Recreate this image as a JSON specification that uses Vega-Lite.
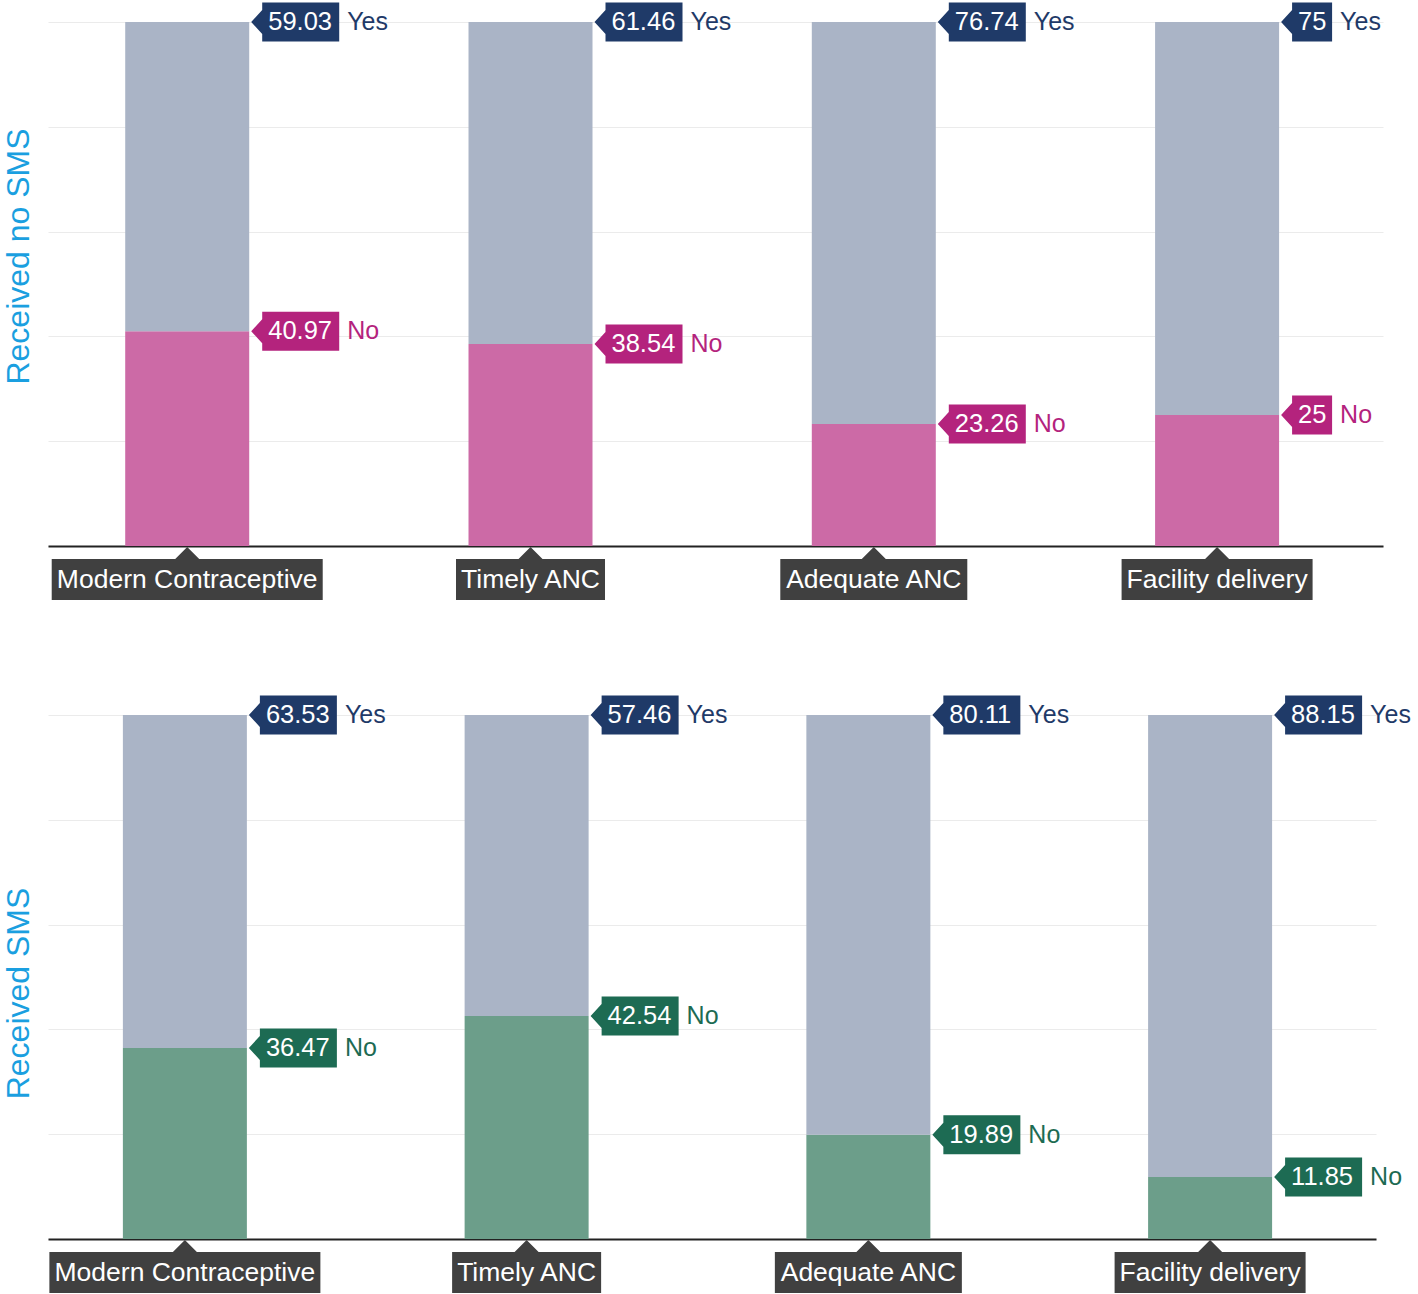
{
  "$schema": "https://vega.github.io/schema/vega-lite/v6.json",
  "padding": {"left": 2, "top": 2, "right": 0, "bottom": 0},
  "spacing": 95,
  "config": {"view": {"stroke": null}, "font": "Liberation Sans"},
  "datasets": {
    "top": [
      {"cat": "Modern Contraceptive", "grp": "No", "value": 40.97},
      {"cat": "Modern Contraceptive", "grp": "Yes", "value": 59.03},
      {"cat": "Timely ANC", "grp": "No", "value": 38.54},
      {"cat": "Timely ANC", "grp": "Yes", "value": 61.46},
      {"cat": "Adequate ANC", "grp": "No", "value": 23.26},
      {"cat": "Adequate ANC", "grp": "Yes", "value": 76.74},
      {"cat": "Facility delivery", "grp": "No", "value": 25},
      {"cat": "Facility delivery", "grp": "Yes", "value": 75}
    ],
    "bottom": [
      {"cat": "Modern Contraceptive", "grp": "No", "value": 36.47},
      {"cat": "Modern Contraceptive", "grp": "Yes", "value": 63.53},
      {"cat": "Timely ANC", "grp": "No", "value": 42.54},
      {"cat": "Timely ANC", "grp": "Yes", "value": 57.46},
      {"cat": "Adequate ANC", "grp": "No", "value": 19.89},
      {"cat": "Adequate ANC", "grp": "Yes", "value": 80.11},
      {"cat": "Facility delivery", "grp": "No", "value": 11.85},
      {"cat": "Facility delivery", "grp": "Yes", "value": 88.15}
    ]
  },
  "resolve": {"scale": {"x": "independent", "y": "independent", "color": "independent", "fill": "independent", "shape": "independent"}},
  "vconcat": [
    {
      "width": 1335,
      "height": 524,
      "data": {"name": "top"},
      "transform": [
        {"stack": "value", "groupby": ["cat"], "sort": [{"field": "grp", "order": "ascending"}], "as": ["v0", "v1"]}
      ],
      "encoding": {
        "x": {
          "field": "cat", "type": "nominal", "sort": null,
          "scale": {"paddingInner": 0.5, "paddingOuter": 0.1944, "align": 0.4},
          "axis": {"labels": false, "ticks": false, "title": null, "domain": true, "domainColor": "#222222", "domainWidth": 2, "grid": false}
        }
      },
      "layer": [
        {
          "mark": {"type": "bar", "width": 124, "opacity": 1},
          "encoding": {
            "y": {
              "field": "v0", "type": "quantitative",
              "scale": {"domain": [0, 100], "nice": false},
              "axis": {
                "title": "Received no SMS", "titleColor": "#1a9fe0", "titleFontSize": 32,
                "titleFont": "Liberation Sans", "titleFontWeight": "normal", "titlePadding": 13, "titleY": 234,
                "labels": false, "ticks": false, "domain": false, "grid": true, "gridColor": "#ebebeb",
                "values": [0, 20, 40, 60, 80, 100]
              }
            },
            "y2": {"field": "v1"},
            "color": {"field": "grp", "type": "nominal", "scale": {"domain": ["No", "Yes"], "range": ["#cc6aa6", "#aab4c6"]}, "legend": null}
          }
        },
        {
          "transform": [{"filter": "datum.grp == 'No'"}],
          "mark": {"type": "point", "filled": true, "size": 4, "opacity": 1, "strokeWidth": 0, "fill": "#404040"},
          "encoding": {
            "y": {"datum": 0, "type": "quantitative"},
            "shape": {
              "field": "cat", "type": "nominal", "legend": null,
              "scale": {
                "domain": ["Modern Contraceptive", "Timely ANC", "Adequate ANC", "Facility delivery"],
                "range": [
                  "M0,1L12,13L135.5,13L135.5,54L-135.5,54L-135.5,13L-12,13Z",
                  "M0,1L12,13L74.5,13L74.5,54L-74.5,54L-74.5,13L-12,13Z",
                  "M0,1L12,13L93.5,13L93.5,54L-93.5,54L-93.5,13L-12,13Z",
                  "M0,1L12,13L95.5,13L95.5,54L-95.5,54L-95.5,13L-12,13Z"
                ]
              }
            }
          }
        },
        {
          "transform": [{"filter": "datum.grp == 'No'"}],
          "mark": {"type": "text", "fontSize": 26.5, "color": "white", "align": "center", "baseline": "middle", "dy": 33.5},
          "encoding": {
            "y": {"datum": 0, "type": "quantitative"},
            "text": {"field": "cat", "type": "nominal"}
          }
        },
        {
          "transform": [{"filter": "length(toString(datum.value)) > 2"}],
          "mark": {"type": "point", "filled": true, "size": 4, "opacity": 1, "strokeWidth": 0, "shape": "M64,0L75,-12L75,-19.5L152,-19.5L152,19.5L75,19.5L75,12Z"},
          "encoding": {
            "y": {"field": "v1", "type": "quantitative"},
            "fill": {"field": "grp", "type": "nominal", "scale": {"domain": ["No", "Yes"], "range": ["#b4237d", "#1f3a68"]}, "legend": null}
          }
        },
        {
          "transform": [{"filter": "length(toString(datum.value)) <= 2"}],
          "mark": {"type": "point", "filled": true, "size": 4, "opacity": 1, "strokeWidth": 0, "shape": "M64,0L75,-12L75,-19.5L115,-19.5L115,19.5L75,19.5L75,12Z"},
          "encoding": {
            "y": {"field": "v1", "type": "quantitative"},
            "fill": {"field": "grp", "type": "nominal", "scale": {"domain": ["No", "Yes"], "range": ["#b4237d", "#1f3a68"]}, "legend": null}
          }
        },
        {
          "mark": {"type": "text", "fontSize": 25.5, "color": "white", "align": "left", "baseline": "middle", "dx": 81},
          "encoding": {
            "y": {"field": "v1", "type": "quantitative"},
            "text": {"field": "value", "type": "nominal"}
          }
        },
        {
          "transform": [{"filter": "length(toString(datum.value)) > 2"}],
          "mark": {"type": "text", "fontSize": 25, "align": "left", "baseline": "middle", "dx": 160},
          "encoding": {
            "y": {"field": "v1", "type": "quantitative"},
            "text": {"field": "grp", "type": "nominal"},
            "fill": {"field": "grp", "type": "nominal", "scale": {"domain": ["No", "Yes"], "range": ["#b4237d", "#1f3a68"]}, "legend": null}
          }
        },
        {
          "transform": [{"filter": "length(toString(datum.value)) <= 2"}],
          "mark": {"type": "text", "fontSize": 25, "align": "left", "baseline": "middle", "dx": 123},
          "encoding": {
            "y": {"field": "v1", "type": "quantitative"},
            "text": {"field": "grp", "type": "nominal"},
            "fill": {"field": "grp", "type": "nominal", "scale": {"domain": ["No", "Yes"], "range": ["#b4237d", "#1f3a68"]}, "legend": null}
          }
        }
      ]
    },
    {
      "width": 1328,
      "height": 524,
      "data": {"name": "bottom"},
      "transform": [
        {"stack": "value", "groupby": ["cat"], "sort": [{"field": "grp", "order": "ascending"}], "as": ["v0", "v1"]}
      ],
      "encoding": {
        "x": {
          "field": "cat", "type": "nominal", "sort": null,
          "scale": {"paddingInner": 0.5, "paddingOuter": 0.193, "align": 0.39},
          "axis": {"labels": false, "ticks": false, "title": null, "domain": true, "domainColor": "#222222", "domainWidth": 2, "grid": false}
        }
      },
      "layer": [
        {
          "mark": {"type": "bar", "width": 124, "opacity": 1},
          "encoding": {
            "y": {
              "field": "v0", "type": "quantitative",
              "scale": {"domain": [0, 100], "nice": false},
              "axis": {
                "title": "Received SMS", "titleColor": "#1a9fe0", "titleFontSize": 32,
                "titleFont": "Liberation Sans", "titleFontWeight": "normal", "titlePadding": 13, "titleY": 278,
                "labels": false, "ticks": false, "domain": false, "grid": true, "gridColor": "#ebebeb",
                "values": [0, 20, 40, 60, 80, 100]
              }
            },
            "y2": {"field": "v1"},
            "color": {"field": "grp", "type": "nominal", "scale": {"domain": ["No", "Yes"], "range": ["#6c9e8a", "#aab4c6"]}, "legend": null}
          }
        },
        {
          "transform": [{"filter": "datum.grp == 'No'"}],
          "mark": {"type": "point", "filled": true, "size": 4, "opacity": 1, "strokeWidth": 0, "fill": "#404040"},
          "encoding": {
            "y": {"datum": 0, "type": "quantitative"},
            "shape": {
              "field": "cat", "type": "nominal", "legend": null,
              "scale": {
                "domain": ["Modern Contraceptive", "Timely ANC", "Adequate ANC", "Facility delivery"],
                "range": [
                  "M0,1L12,13L135.5,13L135.5,54L-135.5,54L-135.5,13L-12,13Z",
                  "M0,1L12,13L74.5,13L74.5,54L-74.5,54L-74.5,13L-12,13Z",
                  "M0,1L12,13L93.5,13L93.5,54L-93.5,54L-93.5,13L-12,13Z",
                  "M0,1L12,13L95.5,13L95.5,54L-95.5,54L-95.5,13L-12,13Z"
                ]
              }
            }
          }
        },
        {
          "transform": [{"filter": "datum.grp == 'No'"}],
          "mark": {"type": "text", "fontSize": 26.5, "color": "white", "align": "center", "baseline": "middle", "dy": 33.5},
          "encoding": {
            "y": {"datum": 0, "type": "quantitative"},
            "text": {"field": "cat", "type": "nominal"}
          }
        },
        {
          "transform": [{"filter": "length(toString(datum.value)) > 2"}],
          "mark": {"type": "point", "filled": true, "size": 4, "opacity": 1, "strokeWidth": 0, "shape": "M64,0L75,-12L75,-19.5L152,-19.5L152,19.5L75,19.5L75,12Z"},
          "encoding": {
            "y": {"field": "v1", "type": "quantitative"},
            "fill": {"field": "grp", "type": "nominal", "scale": {"domain": ["No", "Yes"], "range": ["#1d6b53", "#1f3a68"]}, "legend": null}
          }
        },
        {
          "mark": {"type": "text", "fontSize": 25.5, "color": "white", "align": "left", "baseline": "middle", "dx": 81},
          "encoding": {
            "y": {"field": "v1", "type": "quantitative"},
            "text": {"field": "value", "type": "nominal"}
          }
        },
        {
          "mark": {"type": "text", "fontSize": 25, "align": "left", "baseline": "middle", "dx": 160},
          "encoding": {
            "y": {"field": "v1", "type": "quantitative"},
            "text": {"field": "grp", "type": "nominal"},
            "fill": {"field": "grp", "type": "nominal", "scale": {"domain": ["No", "Yes"], "range": ["#1d6b53", "#1f3a68"]}, "legend": null}
          }
        }
      ]
    }
  ]
}
